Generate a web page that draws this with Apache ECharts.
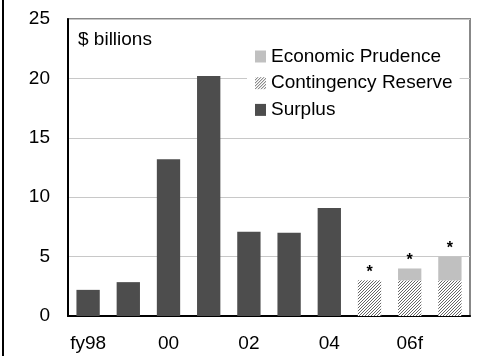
<!DOCTYPE html>
<html>
<head>
<meta charset="utf-8">
<script src="https://cdn.jsdelivr.net/npm/echarts@6/dist/echarts.min.js"></script>
<style>
  html, body { margin: 0; padding: 0; background: #fff; }
  #chart { width: 478px; height: 356px; }
</style>
</head>
<body>
<div id="chart"></div>
<script>
// Fiscal years on the category axis (every other one is labelled)
const years = ['fy98', '99', '00', '01', '02', '03', '04', '05f', '06f', '07f'];
const yearLabels = ['fy98', '', '00', '', '02', '', '04', '', '06f', ''];

// $ billions
const surplus     = [2.2, 2.85, 13.2, 20.2, 7.1, 7.0, 9.1, null, null, null];
const contingency = [null, null, null, null, null, null, null, 3.0, 3.0, 3.0];
const prudence    = [null, null, null, null, null, null, null, 0, 1.0, 2.0];
const notes       = ['', '', '', '', '', '', '', '*', '*', '*'];

const yTicks = { min: 0, max: 25, interval: 5 };

// Diagonal hatch fill for the contingency reserve
function hatch() {
  const c = document.createElement('canvas');
  c.width = 3; c.height = 3;
  const g = c.getContext('2d');
  g.fillStyle = '#ffffff';
  g.fillRect(0, 0, 3, 3);
  g.fillStyle = '#666666';
  g.fillRect(0, 2, 1, 1);
  g.fillRect(1, 1, 1, 1);
  g.fillRect(2, 0, 1, 1);
  return { image: c, repeat: 'repeat' };
}

const font = 'Liberation Sans, Arial, sans-serif';
const chart = echarts.init(document.getElementById('chart'), null, { renderer: 'canvas' });

chart.setOption({
  animation: false,
  backgroundColor: '#ffffff',
  graphic: [{
    type: 'rect',
    shape: { x: 2, y: 0, width: 2, height: 356 },
    style: { fill: '#000000' },
    silent: true
  }],
  title: {
    text: '$ billions',
    left: 78, top: 30, padding: 0,
    textStyle: { fontFamily: font, fontSize: 19, fontWeight: 'normal', color: '#000' }
  },
  legend: {
    orient: 'vertical',
    left: 247, top: 41.5,
    padding: [5, 7, 6, 8],
    backgroundColor: '#ffffff',
    itemWidth: 11, itemHeight: 12, itemGap: 6.7,
    icon: 'rect',
    data: ['Economic Prudence', 'Contingency Reserve', 'Surplus'],
    textStyle: { fontFamily: font, fontSize: 19, color: '#000', lineHeight: 20 }
  },
  grid: {
    left: 68, right: 8, top: 19, bottom: 40,
    show: true, borderColor: '#888888', borderWidth: 2, backgroundColor: 'transparent'
  },
  xAxis: {
    type: 'category',
    data: years,
    boundaryGap: true,
    axisLine: { lineStyle: { color: '#000', width: 2 } },
    axisTick: { inside: true, length: 4, alignWithLabel: false, lineStyle: { color: '#000', width: 1 } },
    axisLabel: {
      interval: 0, margin: 18,
      fontFamily: font, fontSize: 19, color: '#000',
      formatter: (v, i) => yearLabels[i]
    }
  },
  yAxis: {
    type: 'value',
    min: yTicks.min, max: yTicks.max, interval: yTicks.interval,
    axisLine: { show: true, lineStyle: { color: '#000', width: 2 } },
    axisTick: { show: false },
    splitLine: { lineStyle: { color: '#c8c8c8', width: 1 } },
    axisLabel: { margin: 18, fontFamily: font, fontSize: 19, color: '#000' }
  },
  series: [
    {
      name: 'Surplus', type: 'bar', stack: 'total', barWidth: '58%',
      itemStyle: { color: '#4d4d4d' },
      data: surplus
    },
    {
      name: 'Contingency Reserve', type: 'bar', stack: 'total', barWidth: '58%',
      itemStyle: { color: hatch() },
      data: contingency
    },
    {
      name: 'Economic Prudence', type: 'bar', stack: 'total', barWidth: '58%',
      itemStyle: { color: '#c0c0c0' },
      label: {
        show: true, position: 'top', distance: 0,
        fontFamily: font, fontSize: 16, fontWeight: 'bold', color: '#000',
        formatter: p => notes[p.dataIndex]
      },
      data: prudence
    }
  ]
});
</script>
</body>
</html>
